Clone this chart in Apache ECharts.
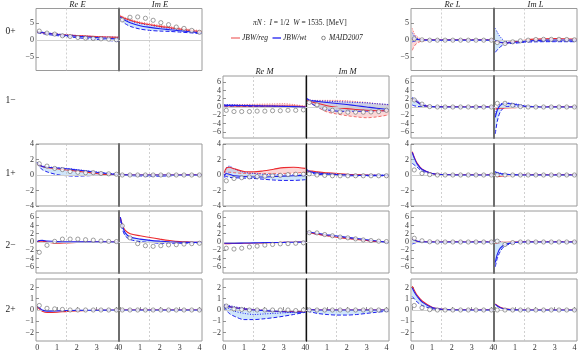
<!DOCTYPE html>
<html><head><meta charset="utf-8">
<script src="https://cdn.jsdelivr.net/npm/echarts@6/dist/echarts.min.js"></script>
<style>html,body{margin:0;padding:0;background:#fff}#c{width:586px;height:352px}</style>
</head><body><div id="c"></div><script>
// ---------- sample positions ----------
const X  = [0, 0.1, 0.25, 0.5, 1, 1.5, 2, 2.5, 3, 3.5, 4.1];
const MX = [0.1, 0.49, 0.88, 1.27, 1.66, 2.05, 2.44, 2.83, 3.22, 3.61, 4.0];

// ---------- tick labels ----------
const xTicks = [0, 1, 2, 3, 4];
const yTicks0p = [-5, 0, 5];
const yTicks1m = [-6, -4, -2, 0, 2, 4, 6];
const yTicks1p = [-4, -2, 0, 2, 4];
const yTicks2m = [-6, -4, -2, 0, 2, 4, 6];
const yTicks2p = [-2, -1, 0, 1, 2];

// ---------- 0+ ----------
const reE0p_red  = [2.4, 2.35, 2.25, 2.05, 1.75, 1.55, 1.35, 1.2, 1.05, 0.95, 0.85];
const reE0p_blue = [2.5, 2.4, 2.3, 2.05, 1.7, 1.4, 1.15, 0.95, 0.75, 0.55, 0.35];
const reE0p_bLo  = [2.2, 2.1, 1.95, 1.7, 1.35, 1.05, 0.75, 0.45, 0.2, -0.05, -0.35];
const reE0p_bHi  = [2.6, 2.5, 2.4, 2.2, 1.9, 1.6, 1.4, 1.2, 1.05, 0.95, 0.85];
const reE0p_maid = [2.7, 2.1, 1.8, 1.3, 1.1, 0.8, 0.6, 0.5, 0.4, 0.3, 0.1];

const imE0p_red  = [7.1, 6.8, 6.4, 5.9, 5.1, 4.6, 4.1, 3.7, 3.3, 2.9, 2.5];
const imE0p_rHi  = [7.4, 7.1, 6.7, 6.2, 5.4, 4.9, 4.4, 4.0, 3.6, 3.2, 2.8];
const imE0p_blue = [6.8, 6.4, 5.9, 5.2, 4.3, 3.8, 3.4, 3.1, 2.8, 2.5, 2.1];
const imE0p_bLo  = [6.2, 5.6, 4.9, 4.1, 3.3, 2.9, 2.7, 2.6, 2.4, 2.2, 1.9];
const imE0p_bHi  = [7.0, 6.7, 6.3, 5.7, 4.9, 4.4, 3.9, 3.5, 3.1, 2.7, 2.3];
const imE0p_maid = [6.0, 6.8, 6.9, 6.5, 5.9, 5.2, 4.6, 3.9, 3.5, 2.9, 2.35];

const reL0p_red  = [0.2, 0.1, 0.05, 0, 0, 0, 0, 0, 0, 0, 0];
const reL0p_rLo  = [-3.0, -1.8, -0.8, -0.25, -0.05, 0, 0, 0, 0, 0, 0];
const reL0p_rHi  = [3.5, 2.0, 1.0, 0.3, 0.08, 0, 0, 0, 0, 0, 0];
const reL0p_blue = [0.5, 0.35, 0.2, 0.05, 0, 0, 0, 0, 0, 0, 0];
const reL0p_bLo  = [-0.5, -0.3, -0.1, 0, 0, 0, 0, 0, 0, 0, 0];
const reL0p_bHi  = [2.2, 1.3, 0.55, 0.15, 0.02, 0, 0, 0, 0, 0, 0];
const reL0p_maid = [0.4, 0.1, 0, 0, 0, 0, 0, 0, 0, 0, 0];

const imL0p_red  = [-0.3, -0.5, -0.7, -0.8, -0.4, 0.0, 0.3, 0.4, 0.45, 0.4, 0.3];
const imL0p_blue = [0, -0.3, -0.6, -0.8, -0.6, -0.3, -0.1, 0, 0.05, 0.05, 0];
const imL0p_bLo  = [-3.6, -2.9, -2.0, -1.1, -0.9, -0.6, -0.5, -0.45, -0.45, -0.45, -0.45];
const imL0p_bHi  = [3.5, 2.4, 1.0, -0.3, -0.6, -0.4, -0.3, -0.3, -0.3, -0.3, -0.3];
const imL0p_maid = [-0.7, -1.0, -0.5, -0.2, 0, 0.2, 0.25, 0.25, 0.25, 0.2, 0.1];

// ---------- 1- ----------
const reM1m_red  = [0.3, 0.3, 0.3, 0.3, 0.25, 0.25, 0.25, 0.25, 0.25, 0.2, 0.1];
const reM1m_rLo  = [0.1, 0.1, 0.1, 0.05, 0, 0, 0, 0, 0, 0, 0];
const reM1m_rHi  = [0.5, 0.5, 0.5, 0.55, 0.6, 0.65, 0.7, 0.75, 0.8, 0.6, 0.2];
const reM1m_blue = [0.4, 0.4, 0.4, 0.4, 0.35, 0.3, 0.25, 0.2, 0.15, 0.1, 0.0];
const reM1m_bLo  = [0.2, 0.2, 0.2, 0.2, 0.15, 0.1, 0.05, 0, 0, -0.05, -0.1];
const reM1m_bHi  = [0.6, 0.6, 0.55, 0.5, 0.45, 0.4, 0.35, 0.3, 0.25, 0.2, 0.1];
const reM1m_maid = [-0.8, -1.1, -1.1, -1.1, -1.0, -1.0, -0.9, -0.9, -0.8, -0.8, -0.7];

const imM1m_red  = [1.7, 1.4, 1.2, 0.9, 0.3, -0.1, -0.4, -0.6, -0.8, -0.9, -0.9];
const imM1m_rLo  = [1.6, 1.2, 0.8, 0.0, -1.2, -1.7, -2.1, -2.4, -2.6, -2.4, -1.9];
const imM1m_rHi  = [1.8, 1.7, 1.6, 1.6, 1.6, 1.6, 1.5, 1.3, 1.1, 0.8, 0.5];
const imM1m_blue = [2.0, 1.6, 1.5, 1.35, 1.1, 0.85, 0.6, 0.3, 0.0, -0.3, -0.6];
const imM1m_bLo  = [1.8, 1.2, 0.7, 0.0, -0.7, -1.0, -1.05, -1.05, -1.0, -0.95, -0.9];
const imM1m_bHi  = [2.0, 1.8, 1.6, 1.5, 1.4, 1.3, 1.2, 1.1, 1.0, 0.8, 0.6];
const imM1m_maid = [1.1, 0.5, -0.4, -0.8, -1.2, -1.25, -1.25, -1.25, -1.2, -1.1, -0.8];

const reL1m_red  = [1.9, 1.7, 1.2, 0.5, 0.1, 0.02, 0, 0, 0, 0, 0];
const reL1m_blue = [2.0, 1.8, 1.2, 0.5, 0.1, 0.02, 0, 0, 0, 0, 0];
const reL1m_bLo  = [0.5, 0.3, 0.15, 0.05, 0, 0, 0, 0, 0, 0, 0];
const reL1m_bHi  = [2.3, 2.1, 1.6, 0.7, 0.15, 0.02, 0, 0, 0, 0, 0];
const reL1m_maid = [1.7, 0.7, 0.1, 0, 0, 0, 0, 0, 0, 0, 0];

const imL1m_red  = [-0.5, -0.4, -0.3, -0.2, -0.15, -0.1, -0.1, -0.05, 0, 0, 0];
const imL1m_blue = [-2.5, -0.8, 0.4, 0.9, 0.6, 0.2, 0.05, 0, 0, 0, 0];
const imL1m_bLo  = [-6.5, -3.5, -1.2, 0.0, 0.2, 0.05, 0, 0, 0, 0, 0];
const imL1m_bHi  = [-1.8, -0.2, 0.7, 1.0, 0.8, 0.3, 0.1, 0, 0, 0, 0];
const imL1m_maid = [0.9, 0.9, 0.4, 0.1, 0, 0, 0, 0, 0, 0, 0];

// ---------- 1+ ----------
const reE1p_red  = [1.5, 1.25, 1.1, 0.95, 0.8, 0.65, 0.5, 0.35, 0.2, 0.05, -0.05];
const reE1p_blue = [1.6, 1.3, 1.1, 1.0, 0.9, 0.8, 0.65, 0.5, 0.35, 0.2, 0.05];
const reE1p_bLo  = [1.6, 1.1, 0.7, 0.4, 0.05, -0.1, -0.15, -0.1, -0.05, 0, 0];
const reE1p_bHi  = [1.6, 1.35, 1.2, 1.05, 0.95, 0.85, 0.7, 0.55, 0.4, 0.25, 0.1];
const reE1p_maid = [1.45, 1.15, 0.85, 0.7, 0.45, 0.35, 0.3, 0.3, 0.2, 0.15, 0.1];

const imE1p_red  = [0.05, 0.03, 0.02, 0, 0, 0, 0, 0, 0, 0, 0];
const imE1p_blue = [0.05, 0.03, 0.02, 0, 0, 0, 0, 0, 0, 0, 0];
const imE1p_bLo  = [0, 0, -0.05, -0.08, -0.12, -0.15, -0.15, -0.1, -0.05, -0.02, 0];
const imE1p_maid = [0, 0, 0, 0, 0, 0, 0, 0, 0, 0, 0];

const reM1p_red  = [0.3, 0.9, 1.0, 0.8, 0.45, 0.4, 0.55, 0.75, 0.95, 1.0, 0.85];
const reM1p_rLo  = [0.0, 0.3, 0.35, 0.3, 0.2, 0.2, 0.2, 0.2, 0.2, 0.25, 0.35];
const reM1p_blue = [-0.2, 0.2, 0.1, -0.1, -0.2, -0.25, -0.25, -0.2, -0.15, -0.1, -0.05];
const reM1p_bLo  = [-0.3, -0.2, -0.3, -0.35, -0.4, -0.45, -0.55, -0.65, -0.7, -0.7, -0.6];
const reM1p_bHi  = [0.0, 0.9, 1.15, 0.8, 0.35, 0.2, 0.1, 0.05, 0, 0, 0];
const reM1p_maid = [-0.75, -0.45, -0.35, -0.25, -0.2, -0.15, -0.1, -0.05, 0.05, 0.1, 0.1];

const imM1p_red  = [0.5, 0.5, 0.5, 0.4, 0.3, 0.2, 0.1, 0.05, 0, -0.05, -0.1];
const imM1p_blue = [0.6, 0.45, 0.35, 0.25, 0.15, 0.05, 0, -0.05, -0.05, -0.05, -0.05];
const imM1p_bLo  = [0.4, 0.3, 0.2, 0.1, 0, -0.05, -0.1, -0.1, -0.1, -0.1, -0.1];
const imM1p_bHi  = [0.7, 0.55, 0.45, 0.35, 0.2, 0.1, 0.05, 0, 0, 0, 0];
const imM1p_maid = [0.15, 0, -0.05, -0.1, -0.1, -0.1, -0.1, -0.1, -0.1, -0.1, -0.1];

const reL1p_red  = [3.0, 2.3, 1.5, 0.75, 0.2, 0.07, 0.02, 0, 0, 0, 0];
const reL1p_blue = [2.9, 2.2, 1.4, 0.7, 0.2, 0.06, 0.02, 0, 0, 0, 0];
const reL1p_bLo  = [1.5, 1.3, 1.0, 0.5, 0.15, 0.05, 0.01, 0, 0, 0, 0];
const reL1p_maid = [0.65, 0.2, 0.05, 0, 0, 0, 0, 0, 0, 0, 0];

const imL1p_red  = [0, -0.2, -0.15, -0.1, -0.05, 0, 0, 0, 0, 0, 0];
const imL1p_blue = [0.4, 0.3, 0.2, 0.1, 0.02, 0, 0, 0, 0, 0, 0];
const imL1p_bLo  = [0.1, 0.05, 0, 0, 0, 0, 0, 0, 0, 0, 0];
const imL1p_bHi  = [0.45, 0.35, 0.25, 0.12, 0.03, 0, 0, 0, 0, 0, 0];
const imL1p_maid = [0, 0, 0, 0, 0, 0, 0, 0, 0, 0, 0];

// ---------- 2- ----------
const reE2m_red  = [0.1, 0.15, 0.2, 0.0, -0.3, -0.2, -0.1, 0, 0, 0, 0];
const reE2m_blue = [0.1, 0.35, 0.4, 0.25, 0.1, 0.05, 0.05, 0.05, 0.05, 0.05, 0];
const reE2m_maid = [-2.5, -0.8, 0.15, 0.7, 0.7, 0.7, 0.55, 0.45, 0.25, 0.15, 0.1];

const imE2m_red  = [6.0, 4.2, 2.8, 2.0, 1.5, 1.1, 0.7, 0.35, 0.1, 0, -0.1];
const imE2m_blue = [6.0, 4.0, 2.2, 1.2, 0.7, 0.4, 0.2, 0.05, -0.05, -0.1, -0.1];
const imE2m_bLo  = [5.5, 3.2, 1.5, 0.6, 0.1, -0.1, -0.3, -0.3, -0.3, -0.25, -0.2];
const imE2m_maid = [3.9, 1.0, -0.4, -0.9, -1.05, -0.9, -0.7, -0.65, -0.5, -0.4, -0.3];

const reM2m_red  = [-0.4, -0.4, -0.4, -0.35, -0.3, -0.25, -0.2, -0.15, -0.1, -0.05, 0];
const reM2m_blue = [-0.3, -0.3, -0.3, -0.3, -0.25, -0.2, -0.15, -0.12, -0.1, -0.05, 0];
const reM2m_maid = [-1.5, -1.7, -1.5, -1.2, -1.0, -0.75, -0.6, -0.45, -0.4, -0.3, -0.2];

const imM2m_red  = [2.3, 2.25, 2.15, 1.9, 1.5, 1.15, 0.85, 0.6, 0.35, 0.1, -0.1];
const imM2m_blue = [2.4, 2.35, 2.3, 2.1, 1.75, 1.45, 1.15, 0.85, 0.55, 0.25, -0.1];
const imM2m_bLo  = [2.3, 2.2, 2.1, 1.9, 1.55, 1.25, 0.95, 0.65, 0.4, 0.15, -0.15];
const imM2m_maid = [2.25, 2.2, 1.8, 1.5, 1.2, 1.0, 0.75, 0.5, 0.35, 0.2, 0.1];

const reL2m_red  = [0.8, 0.5, 0.2, 0.05, 0, 0, 0, 0, 0, 0, 0];
const reL2m_blue = [0.8, 0.5, 0.2, 0.05, 0, 0, 0, 0, 0, 0, 0];
const reL2m_bLo  = [-0.5, -0.3, -0.1, 0, 0, 0, 0, 0, 0, 0, 0];
const reL2m_maid = [0.9, 0.3, 0.05, 0, 0, 0, 0, 0, 0, 0, 0];

const imL2m_red  = [-0.3, -0.2, -0.1, -0.05, 0, 0, 0, 0, 0, 0, 0];
const imL2m_blue = [-5.0, -3.0, -1.5, -0.6, -0.1, 0, 0, 0, 0, 0, 0];
const imL2m_bLo  = [-6.0, -4.0, -2.3, -0.9, -0.2, 0, 0, 0, 0, 0, 0];
const imL2m_bHi  = [0.5, 0.3, 0.1, -0.2, -0.1, 0, 0, 0, 0, 0, 0];
const imL2m_maid = [0.2, -0.6, -0.15, 0, 0, 0, 0, 0, 0, 0, 0];

// ---------- 2+ ----------
const reE2p_red  = [0.3, 0.1, -0.1, -0.22, -0.2, -0.12, -0.08, -0.05, -0.03, -0.02, -0.01];
const reE2p_blue = [0.35, 0.2, 0.0, -0.1, -0.08, -0.05, -0.03, -0.02, -0.02, -0.01, 0];
const reE2p_maid = [0.4, 0.15, 0.1, 0.05, 0, 0, 0, 0, 0, 0, 0];

const imE2p_red  = [0, 0, 0, 0, 0, 0, 0, 0, 0, 0, 0];
const imE2p_blue = [0, 0, 0, 0, 0, 0, 0, 0, 0, 0, 0];
const imE2p_maid = [0, 0, 0, 0, 0, 0, 0, 0, 0, 0, 0];

const reM2p_red  = [0.4, 0.35, 0.3, 0.2, 0.1, 0.0, -0.05, -0.1, -0.12, -0.12, -0.1];
const reM2p_blue = [0.4, 0.35, 0.3, 0.2, 0.1, 0.0, -0.05, -0.1, -0.15, -0.18, -0.2];
const reM2p_bLo  = [0.3, 0.0, -0.3, -0.55, -0.85, -0.85, -0.78, -0.68, -0.55, -0.4, -0.2];
const reM2p_bHi  = [0.5, 0.45, 0.4, 0.3, 0.15, 0.05, 0, -0.05, -0.1, -0.15, -0.2];
const reM2p_bDot = [0.4, 0.25, 0.1, -0.1, -0.3, -0.4, -0.35, -0.3, -0.25, -0.2, -0.15];
const reM2p_maid = [0.35, 0.1, 0.05, 0, 0, 0, 0, 0, 0, -0.05, 0];

const imM2p_red  = [0.05, 0.03, 0.02, 0, 0, 0, 0, 0, 0, 0, 0];
const imM2p_blue = [0.05, 0.03, 0.02, 0, 0, 0, 0, 0, 0, 0, 0];
const imM2p_bLo  = [-0.1, -0.15, -0.2, -0.3, -0.4, -0.45, -0.45, -0.4, -0.3, -0.2, -0.1];
const imM2p_maid = [0, 0, 0, 0, 0, 0, 0, 0, 0, 0, 0];

const reL2p_red  = [2.1, 1.75, 1.3, 0.8, 0.25, 0.08, 0.02, 0, 0, 0, 0];
const reL2p_blue = [1.95, 1.6, 1.2, 0.7, 0.22, 0.07, 0.02, 0, 0, 0, 0];
const reL2p_bLo  = [1.2, 1.0, 0.7, 0.4, 0.12, 0.03, 0.01, 0, 0, 0, 0];
const reL2p_maid = [0.4, 0.2, 0.03, 0, 0, 0, 0, 0, 0, 0, 0];

const imL2p_red  = [0.55, 0.4, 0.25, 0.1, 0.02, 0, 0, 0, 0, 0, 0];
const imL2p_blue = [0.5, 0.35, 0.2, 0.08, 0.01, 0, 0, 0, 0, 0, 0];
const imL2p_maid = [0, 0, 0, 0, 0, 0, 0, 0, 0, 0, 0];

// ---------- text ----------
const rowNames = ['0+', '1\u2212', '1+', '2\u2212', '2+'];
const colTitles = ['Re E', 'Im E', 'Re M', 'Im M', 'Re L', 'Im L'];
const legendNames = ['JBW/reg', 'JBW/wt', 'MAID2007'];

// ---------- layout ----------
const rows = {
  p0: {top: 8.5, ticks: yTicks0p, min: -9, max: 9.4},
  m1: {top: 76, ticks: yTicks1m, min: -7.5, max: 7.5},
  p1: {top: 144, ticks: yTicks1p, min: -4, max: 4},
  m2: {top: 211, ticks: yTicks2m, min: -7.5, max: 7.5},
  p2: {top: 279, ticks: yTicks2p, min: -2.75, max: 2.75}
};
const rowH = 62;
const colLeft = {E: 36, M: 223, L: 411};
const panelW = 83;
const xMin = -0.065, xMax = 4.13, refX = 1.47;

const panels = [
  {row:'p0', col:'E', part:'re', red:reE0p_red, blue:reE0p_blue, bLo:reE0p_bLo, bHi:reE0p_bHi, maid:reE0p_maid},
  {row:'p0', col:'E', part:'im', red:imE0p_red, rHi:imE0p_rHi, blue:imE0p_blue, bLo:imE0p_bLo, bHi:imE0p_bHi, maid:imE0p_maid},
  {row:'p0', col:'L', part:'re', red:reL0p_red, rLo:reL0p_rLo, rHi:reL0p_rHi, blue:reL0p_blue, bLo:reL0p_bLo, bHi:reL0p_bHi, maid:reL0p_maid},
  {row:'p0', col:'L', part:'im', red:imL0p_red, blue:imL0p_blue, bLo:imL0p_bLo, bHi:imL0p_bHi, maid:imL0p_maid},

  {row:'m1', col:'M', part:'re', red:reM1m_red, rLo:reM1m_rLo, rHi:reM1m_rHi, blue:reM1m_blue, bLo:reM1m_bLo, bHi:reM1m_bHi, maid:reM1m_maid},
  {row:'m1', col:'M', part:'im', red:imM1m_red, rLo:imM1m_rLo, rHi:imM1m_rHi, blue:imM1m_blue, bLo:imM1m_bLo, bHi:imM1m_bHi, maid:imM1m_maid},
  {row:'m1', col:'L', part:'re', red:reL1m_red, blue:reL1m_blue, bLo:reL1m_bLo, bHi:reL1m_bHi, maid:reL1m_maid},
  {row:'m1', col:'L', part:'im', red:imL1m_red, blue:imL1m_blue, bLo:imL1m_bLo, bHi:imL1m_bHi, maid:imL1m_maid},

  {row:'p1', col:'E', part:'re', red:reE1p_red, blue:reE1p_blue, bLo:reE1p_bLo, bHi:reE1p_bHi, maid:reE1p_maid},
  {row:'p1', col:'E', part:'im', red:imE1p_red, blue:imE1p_blue, bLo:imE1p_bLo, maid:imE1p_maid},
  {row:'p1', col:'M', part:'re', red:reM1p_red, rLo:reM1p_rLo, blue:reM1p_blue, bLo:reM1p_bLo, bHi:reM1p_bHi, maid:reM1p_maid},
  {row:'p1', col:'M', part:'im', red:imM1p_red, blue:imM1p_blue, bLo:imM1p_bLo, bHi:imM1p_bHi, maid:imM1p_maid},
  {row:'p1', col:'L', part:'re', red:reL1p_red, blue:reL1p_blue, bLo:reL1p_bLo, maid:reL1p_maid},
  {row:'p1', col:'L', part:'im', red:imL1p_red, blue:imL1p_blue, bLo:imL1p_bLo, bHi:imL1p_bHi, maid:imL1p_maid},

  {row:'m2', col:'E', part:'re', red:reE2m_red, blue:reE2m_blue, maid:reE2m_maid},
  {row:'m2', col:'E', part:'im', red:imE2m_red, blue:imE2m_blue, bLo:imE2m_bLo, maid:imE2m_maid},
  {row:'m2', col:'M', part:'re', red:reM2m_red, blue:reM2m_blue, maid:reM2m_maid},
  {row:'m2', col:'M', part:'im', red:imM2m_red, blue:imM2m_blue, bLo:imM2m_bLo, maid:imM2m_maid},
  {row:'m2', col:'L', part:'re', red:reL2m_red, blue:reL2m_blue, bLo:reL2m_bLo, maid:reL2m_maid},
  {row:'m2', col:'L', part:'im', red:imL2m_red, blue:imL2m_blue, bLo:imL2m_bLo, bHi:imL2m_bHi, maid:imL2m_maid},

  {row:'p2', col:'E', part:'re', red:reE2p_red, blue:reE2p_blue, maid:reE2p_maid},
  {row:'p2', col:'E', part:'im', red:imE2p_red, blue:imE2p_blue, maid:imE2p_maid},
  {row:'p2', col:'M', part:'re', red:reM2p_red, blue:reM2p_blue, bLo:reM2p_bLo, bHi:reM2p_bHi, bDot:reM2p_bDot, maid:reM2p_maid},
  {row:'p2', col:'M', part:'im', red:imM2p_red, blue:imM2p_blue, bLo:imM2p_bLo, maid:imM2p_maid},
  {row:'p2', col:'L', part:'re', red:reL2p_red, blue:reL2p_blue, bLo:reL2p_bLo, maid:reL2p_maid},
  {row:'p2', col:'L', part:'im', red:imL2p_red, blue:imL2p_blue, maid:imL2p_maid}
];

const SER = "'Liberation Serif','DejaVu Serif',serif";
const RED = '#ec2a2f', BLUE = '#1f1ff0';
const RED_FILL = 'rgba(245,160,160,0.42)', BLUE_FILL = 'rgba(150,200,245,0.45)';
const SM = 0.3;

const grids = [], xAxes = [], yAxes = [], series = [];
const pts = (xs, ys) => xs.map((x, k) => [x, ys[k]]);

function lineSeries(ax, ys, color, type, width, z, name) {
  return {type: 'line', name: name || '', xAxisIndex: ax, yAxisIndex: ax, data: pts(X, ys),
    symbol: 'none', smooth: SM, silent: true, z: z,
    lineStyle: {color: color, type: type, width: width}};
}
function bandFill(ax, lo, hi, fill) {
  series.push({type: 'custom', xAxisIndex: ax, yAxisIndex: ax, silent: true, z: 2, clip: true,
    data: [[X[0], lo[0]]],
    renderItem: function (params, api) {
      const P = [];
      for (let k = 0; k < X.length; k++) P.push(api.coord([X[k], hi[k]]));
      for (let k = X.length - 1; k >= 0; k--) P.push(api.coord([X[k], lo[k]]));
      return {type: 'polygon', shape: {points: P, smooth: SM}, style: {fill: fill, stroke: null}};
    }});
}

let axI = 0;
panels.forEach(p => {
  const r = rows[p.row];
  const isIm = p.part === 'im';
  const left = colLeft[p.col] + (isIm ? panelW : 0);
  const ax = axI++;
  grids.push({left: left, top: r.top, width: panelW, height: rowH, show: true,
    borderColor: '#9a9a9a', borderWidth: 1, backgroundColor: 'transparent'});
  const bottomRow = p.row === 'p2';
  xAxes.push({gridIndex: ax, type: 'value', min: xMin, max: xMax,
    axisLine: {show: false}, splitLine: {show: false},
    axisTick: {show: bottomRow, inside: true, length: 3, customValues: xTicks, lineStyle: {color: '#777', width: 0.8}},
    axisLabel: {show: bottomRow, customValues: xTicks, fontFamily: SER, fontSize: 8, color: '#333', margin: 3}});
  const sepColor = p.col === 'M' ? '#111' : '#6e6e6e';
  const sepWidth = p.col === 'M' ? 1.3 : 2;
  yAxes.push({gridIndex: ax, type: 'value', min: r.min, max: r.max, position: 'left',
    axisLine: {show: isIm, onZero: false, lineStyle: {color: sepColor, width: sepWidth}},
    splitLine: {show: false},
    axisTick: {show: !isIm, inside: true, length: 3, customValues: r.ticks, lineStyle: {color: '#777', width: 0.8}},
    axisLabel: {show: !isIm, customValues: r.ticks, fontFamily: SER, fontSize: 8, color: '#333', margin: 2,
      formatter: v => String(v).replace('-', '\u2212')}});

  // reference lines (zero line, dashed vertical guide)
  series.push({type: 'line', xAxisIndex: ax, yAxisIndex: ax, data: [], silent: true, z: 1,
    markLine: {silent: true, symbol: 'none', label: {show: false}, animation: false,
      data: [
        {yAxis: 0, lineStyle: {color: '#cfcfcf', type: 'solid', width: 1}},
        {xAxis: refX, lineStyle: {color: '#c4c4c4', type: [2, 2], width: 0.8}}
      ]}});

  if (p.rLo || p.rHi) bandFill(ax, p.rLo || p.red, p.rHi || p.red, RED_FILL);
  if (p.bLo || p.bHi) bandFill(ax, p.bLo || p.blue, p.bHi || p.blue, BLUE_FILL);
  if (p.rLo) series.push(lineSeries(ax, p.rLo, '#f06060', [3, 2], 0.9, 3));
  if (p.rHi) series.push(lineSeries(ax, p.rHi, '#f06060', [1, 1.5], 0.9, 3));
  if (p.bLo) series.push(lineSeries(ax, p.bLo, BLUE, [4, 2], 1, 3));
  if (p.bHi) series.push(lineSeries(ax, p.bHi, BLUE, [1, 1.5], 1, 3));
  if (p.bDot) series.push(lineSeries(ax, p.bDot, BLUE, [1, 1.5], 1, 3));
  series.push(lineSeries(ax, p.red, RED, 'solid', 1.1, 4, legendNames[0]));
  series.push(lineSeries(ax, p.blue, BLUE, 'solid', 1.1, 5, legendNames[1]));
  series.push({type: 'scatter', name: legendNames[2], xAxisIndex: ax, yAxisIndex: ax, data: pts(MX, p.maid),
    symbol: 'circle', symbolSize: 4.2, silent: true, z: 6,
    itemStyle: {color: '#ffffff', borderColor: '#6a6a6a', borderWidth: 0.8}});
});

// text and legend
const graphics = [];
const rowLabelY = [31.7, 100, 173, 245, 309];
rowNames.forEach((t, k) => graphics.push({type: 'text', x: 10.5, y: rowLabelY[k],
  style: {text: t, font: '9.5px ' + SER, fill: '#222', textAlign: 'center', textVerticalAlign: 'middle'}}));
const colTitleX = [77.5, 160, 264.5, 347.5, 452.5, 535.5];
const colTitleY = [4.5, 4.5, 71.5, 71.5, 4.5, 4.5];
colTitles.forEach((t, k) => graphics.push({type: 'text', x: colTitleX[k], y: colTitleY[k],
  style: {text: t, font: 'italic 8.5px ' + SER, fill: '#222', textAlign: 'center', textVerticalAlign: 'middle'}}));
// legend row
const legY = 38;
graphics.push({type: 'line', shape: {x1: 231, y1: legY, x2: 240, y2: legY}, style: {stroke: '#f07070', lineWidth: 1.3}});
graphics.push({type: 'text', x: 242, y: legY, style: {text: legendNames[0], font: 'italic 7.5px ' + SER, fill: '#222', textAlign: 'left', textVerticalAlign: 'middle'}});
graphics.push({type: 'line', shape: {x1: 272.5, y1: legY, x2: 281, y2: legY}, style: {stroke: BLUE, lineWidth: 1.3}});
graphics.push({type: 'text', x: 283, y: legY, style: {text: legendNames[1], font: 'italic 7.5px ' + SER, fill: '#222', textAlign: 'left', textVerticalAlign: 'middle'}});
graphics.push({type: 'circle', shape: {cx: 323.5, cy: legY, r: 1.8}, style: {fill: '#fff', stroke: '#6a6a6a', lineWidth: 0.8}});
graphics.push({type: 'text', x: 329, y: legY, style: {text: legendNames[2], font: 'italic 7.5px ' + SER, fill: '#222', textAlign: 'left', textVerticalAlign: 'middle'}});

const chart = echarts.init(document.getElementById('c'));
chart.setOption({
  animation: false,
  backgroundColor: '#fff',
  title: {text: '{i|\u03c0N} :  {i|I} = 1/2  {i|W} = 1535. [MeV]', left: 253, top: 19, padding: 0,
    textStyle: {fontFamily: SER, fontSize: 7.5, fontWeight: 'normal', color: '#222',
      rich: {i: {fontFamily: SER, fontSize: 7.5, fontStyle: 'italic', color: '#222'}}}},
  grid: grids, xAxis: xAxes, yAxis: yAxes, series: series, graphic: graphics
});
</script></body></html>
